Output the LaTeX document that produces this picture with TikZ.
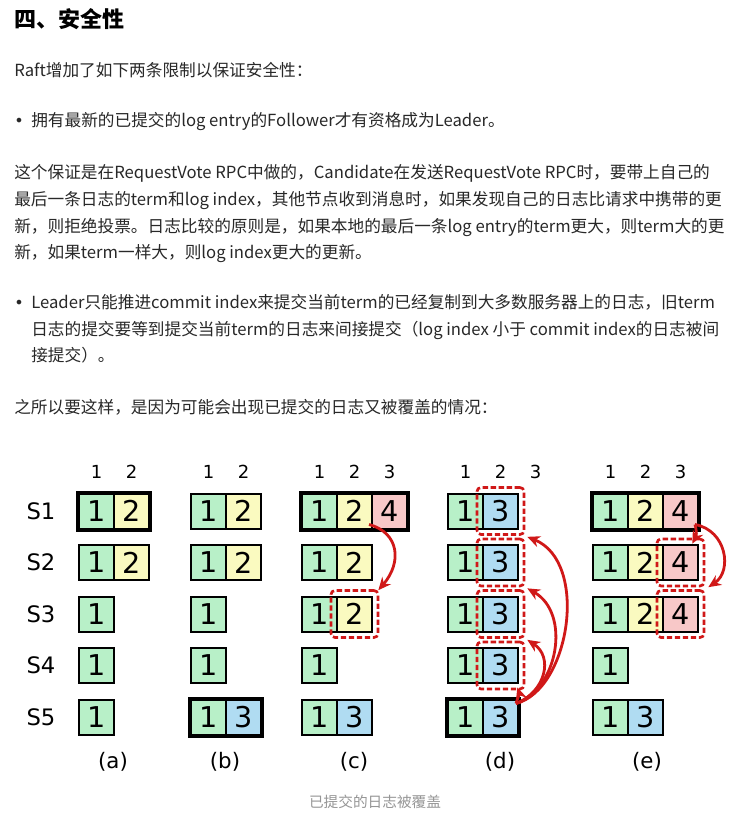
\documentclass[tikz,border=0pt]{standalone}
\usepackage{fontspec}
\setmainfont{Noto Sans CJK SC}
\newfontfamily\dejavu{DejaVu Sans}
\usetikzlibrary{arrows.meta,fit,calc}
\definecolor{cgreen}{RGB}{184,240,200}
\definecolor{cyellow}{RGB}{250,250,192}
\definecolor{cblue}{RGB}{176,220,242}
\definecolor{cpink}{RGB}{248,200,200}
\definecolor{cred}{RGB}{208,24,24}
\definecolor{txt}{RGB}{40,40,40}
\definecolor{capgray}{RGB}{150,150,150}
\newcommand\logcell[5]{\node[cell,fill=#4] (#1) at (#2,#3) {#5};}
\begin{document}
\begin{tikzpicture}[x=0.75pt,y=-0.75pt,
  bodytext/.style={anchor=base west,inner sep=0pt,font=\fontsize{12.5}{14}\selectfont,text=txt},
  bullet/.style={anchor=base west,inner sep=0pt,font=\dejavu\fontsize{12}{14}\selectfont,text=txt},
  titletext/.style={anchor=base west,inner sep=0pt,font=\fontsize{16.5}{18}\selectfont\bfseries,text=black},
  cell/.style={draw=black,line width=1.5pt,minimum width=26.25pt,minimum height=26.25pt,inner sep=0pt,font=\dejavu\fontsize{21.5}{22}\selectfont},
  header/.style={inner sep=0pt,font=\dejavu\fontsize{13.5}{14}\selectfont},
  rowlabel/.style={inner sep=0pt,font=\dejavu\fontsize{17}{18}\selectfont},
  sublabel/.style={inner sep=0pt,font=\dejavu\fontsize{16}{18}\selectfont},
  caption/.style={inner sep=0pt,font=\fontsize{11}{12}\selectfont,text=capgray},
  leaderbox/.style={draw=black,line width=3pt},
  dashbox/.style={draw=cred,line width=2pt,dash pattern=on 4pt off 2pt,rounded corners=3pt,inner sep=3.75pt},
  redarrow/.style={draw=cred,line width=2.1pt,-{Stealth[length=9.5pt,width=8.5pt]}}
]
\useasboundingbox (0,0) rectangle (750,817);
\fill[white] (0,0) rectangle (750,817);

% ---------- text ----------
\node[titletext] (title) at (14,28) {四、安全性};
\node[bodytext] (l1) at (14,77) {Raft增加了如下两条限制以保证安全性：};
\node[bullet] (b1) at (14,127) {•};
\node[bodytext] (l2) at (31,127) {拥有最新的已提交的log entry的Follower才有资格成为Leader。};
\node[bodytext] (l3) at (14,178) {这个保证是在RequestVote RPC中做的，Candidate在发送RequestVote RPC时，要带上自己的};
\node[bodytext] (l4) at (14,205) {最后一条日志的term和log index，其他节点收到消息时，如果发现自己的日志比请求中携带的更};
\node[bodytext] (l5) at (14,232) {新，则拒绝投票。日志比较的原则是，如果本地的最后一条log entry的term更大，则term大的更};
\node[bodytext] (l6) at (14,258) {新，如果term一样大，则log index更大的更新。};
\node[bullet] (b2) at (14,308) {•};
\node[bodytext] (l7) at (31,308) {Leader只能推进commit index来提交当前term的已经复制到大多数服务器上的日志，旧term};
\node[bodytext] (l8) at (31,335) {日志的提交要等到提交当前term的日志来间接提交（log index 小于 commit index的日志被间};
\node[bodytext] (l9) at (31,361) {接提交）。};
\node[bodytext] (l10) at (14,413) {之所以要这样，是因为可能会出现已提交的日志又被覆盖的情况：};

% ---------- row labels ----------
\node[rowlabel] (s1) at (41,511) {S1};
\node[rowlabel] (s2) at (41,562.5) {S2};
\node[rowlabel] (s3) at (41,614) {S3};
\node[rowlabel] (s4) at (41,665.5) {S4};
\node[rowlabel] (s5) at (41,717) {S5};

% ---------- headers ----------
\node[header] (ha1) at (96.5,472) {1};
\node[header] (ha2) at (131.5,472) {2};
\node[header] (hb1) at (208.5,472) {1};
\node[header] (hb2) at (243.5,472) {2};
\node[header] (hc1) at (319.5,472) {1};
\node[header] (hc2) at (354.5,472) {2};
\node[header] (hc3) at (389.5,472) {3};
\node[header] (hd1) at (465.5,472) {1};
\node[header] (hd2) at (500.5,472) {2};
\node[header] (hd3) at (535.5,472) {3};
\node[header] (he1) at (610.5,472) {1};
\node[header] (he2) at (645.5,472) {2};
\node[header] (he3) at (680.5,472) {3};

% ---------- (a) ----------
\logcell{a11}{96.5}{511}{cgreen}{1}
\logcell{a12}{131.5}{511}{cyellow}{2}
\logcell{a21}{96.5}{562.5}{cgreen}{1}
\logcell{a22}{131.5}{562.5}{cyellow}{2}
\logcell{a31}{96.5}{614}{cgreen}{1}
\logcell{a41}{96.5}{665.5}{cgreen}{1}
\logcell{a51}{96.5}{717}{cgreen}{1}
\draw[leaderbox] (a11.north west) rectangle (a12.south east);

% ---------- (b) ----------
\logcell{b11}{208.5}{511}{cgreen}{1}
\logcell{b12}{243.5}{511}{cyellow}{2}
\logcell{b21}{208.5}{562.5}{cgreen}{1}
\logcell{b22}{243.5}{562.5}{cyellow}{2}
\logcell{b31}{208.5}{614}{cgreen}{1}
\logcell{b41}{208.5}{665.5}{cgreen}{1}
\logcell{b51}{208.5}{717}{cgreen}{1}
\logcell{b52}{243.5}{717}{cblue}{3}
\draw[leaderbox] (b51.north west) rectangle (b52.south east);

% ---------- (c) ----------
\logcell{c11}{319.5}{511}{cgreen}{1}
\logcell{c12}{354.5}{511}{cyellow}{2}
\logcell{c13}{389.5}{511}{cpink}{4}
\logcell{c21}{319.5}{562.5}{cgreen}{1}
\logcell{c22}{354.5}{562.5}{cyellow}{2}
\logcell{c31}{319.5}{614}{cgreen}{1}
\logcell{c32}{354.5}{614}{cyellow}{2}
\logcell{c41}{319.5}{665.5}{cgreen}{1}
\logcell{c51}{319.5}{717}{cgreen}{1}
\logcell{c52}{354.5}{717}{cblue}{3}
\draw[leaderbox] (c11.north west) rectangle (c13.south east);
\node[dashbox,fit=(c32)] (cd3) {};

% ---------- (d) ----------
\logcell{d11}{465.5}{511}{cgreen}{1}
\logcell{d12}{500.5}{511}{cblue}{3}
\logcell{d21}{465.5}{562.5}{cgreen}{1}
\logcell{d22}{500.5}{562.5}{cblue}{3}
\logcell{d31}{465.5}{614}{cgreen}{1}
\logcell{d32}{500.5}{614}{cblue}{3}
\logcell{d41}{465.5}{665.5}{cgreen}{1}
\logcell{d42}{500.5}{665.5}{cblue}{3}
\logcell{d51}{465.5}{717}{cgreen}{1}
\logcell{d52}{500.5}{717}{cblue}{3}
\draw[leaderbox] (d51.north west) rectangle (d52.south east);
\node[dashbox,fit=(d12)] (dd1) {};
\node[dashbox,fit=(d22)] (dd2) {};
\node[dashbox,fit=(d32)] (dd3) {};
\node[dashbox,fit=(d42)] (dd4) {};

% ---------- (e) ----------
\logcell{e11}{610.5}{511}{cgreen}{1}
\logcell{e12}{645.5}{511}{cyellow}{2}
\logcell{e13}{680.5}{511}{cpink}{4}
\logcell{e21}{610.5}{562.5}{cgreen}{1}
\logcell{e22}{645.5}{562.5}{cyellow}{2}
\logcell{e23}{680.5}{562.5}{cpink}{4}
\logcell{e31}{610.5}{614}{cgreen}{1}
\logcell{e32}{645.5}{614}{cyellow}{2}
\logcell{e33}{680.5}{614}{cpink}{4}
\logcell{e41}{610.5}{665.5}{cgreen}{1}
\logcell{e51}{610.5}{717}{cgreen}{1}
\logcell{e52}{645.5}{717}{cblue}{3}
\draw[leaderbox] (e11.north west) rectangle (e13.south east);
\node[dashbox,fit=(e23)] (de2) {};
\node[dashbox,fit=(e33)] (de3) {};

% ---------- arrows ----------
\draw[redarrow] ($(c12.south east)+(-4,-5)$) .. controls +(30,8) and +(24,-28) .. ($(cd3.north east)+(-1,1)$);

\coordinate (dstart) at ($(d52.north east)+(-3,5)$);
\draw[redarrow] (dstart) .. controls +(2,-6) and +(2,6) .. ($(dd4.south east)+(-8,-3)$);
\draw[redarrow] (dstart) .. controls +(30,-12) and +(26,17) .. ($(dd3.south east)+(2,1)$);
\draw[redarrow] (dstart) .. controls +(42,-14) and +(44,25) .. ($(dd2.south east)+(2,1)$);
\draw[redarrow] (dstart) .. controls +(54,-14) and +(62,25) .. ($(dd1.south east)+(2,1)$);

\coordinate (estart) at ($(e13.south east)+(-4,-5)$);
\draw[redarrow] (estart) .. controls +(2,8) and +(4,-8) .. ($(de2.north east)+(-13,6)$);
\draw[redarrow] (estart) .. controls +(32,6) and +(24,-16) .. ($(de3.north east)+(3,-2)$);

% ---------- sub labels ----------
\node[sublabel] (la) at (113,762) {(a)};
\node[sublabel] (lb) at (225,762) {(b)};
\node[sublabel] (lc) at (354,762) {(c)};
\node[sublabel] (ld) at (500,762) {(d)};
\node[sublabel] (le) at (647,762) {(e)};

\node[caption] (cap) at (375,802) {已提交的日志被覆盖};
\end{tikzpicture}
\end{document}
